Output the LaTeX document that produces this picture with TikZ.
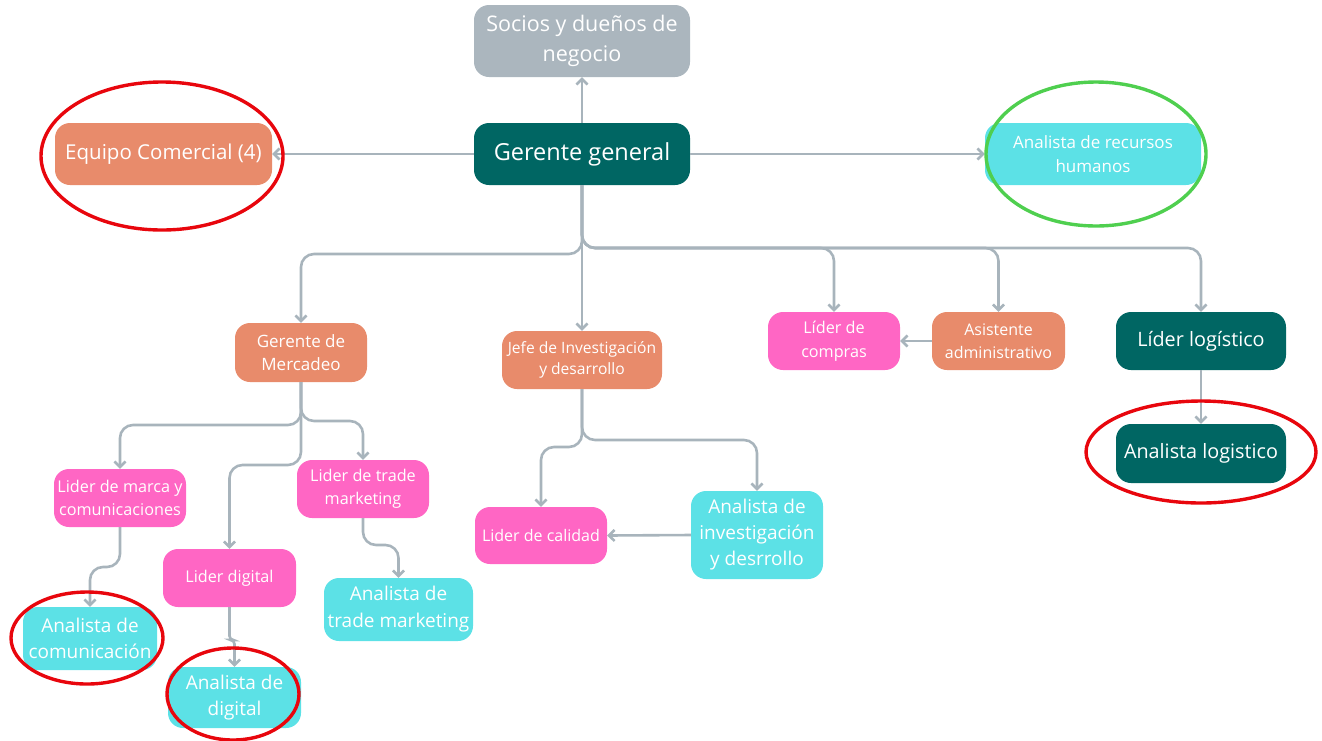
\documentclass[tikz,border=0pt]{standalone}
\usepackage{fontspec}
\setmainfont{Open Sans}
\usetikzlibrary{arrows.meta}

\definecolor{cOrange}{HTML}{E88B6B}
\definecolor{cPink}{HTML}{FF66C4}
\definecolor{cCyan}{HTML}{5CE1E6}
\definecolor{cTeal}{HTML}{006663}
\definecolor{cGray}{HTML}{ABB6BE}
\definecolor{cLine}{HTML}{A8B4BC}
\definecolor{cRed}{HTML}{E8060D}
\definecolor{cGreen}{HTML}{4FCF4F}

\newcommand{\fs}[2]{\fontsize{#1}{#2}\selectfont}

\tikzset{
  box/.style={rounded corners=15pt, text=white, align=center, inner sep=0pt},
  conn/.style={draw=cLine, line width=2.6pt, rounded corners=13pt,
    -{Straight Barb[length=5.5pt,width=11pt]}},
  mark red/.style={draw=cRed, line width=3.4pt},
  mark green/.style={draw=cGreen, line width=3.4pt},
}

\begin{document}
\begin{tikzpicture}[x=1pt, y=-1pt]
\useasboundingbox (0,0) rectangle (1322,740);

% top level
\node[box, fill=cGray, minimum width=216pt, minimum height=72pt, font=\fs{21.5}{30}] (soc) at (582,41) {Socios y dueños de\\negocio};
\node[box, fill=cTeal, minimum width=216pt, minimum height=62pt, font=\fs{23.5}{28}] (gg) at (582,154) {Gerente general};
\node[box, fill=cOrange, minimum width=217pt, minimum height=62pt, font=\fs{20.5}{26}] (eq) at (163.5,154) {Equipo Comercial (4)};
\node[box, fill=cCyan, minimum width=216pt, minimum height=62pt, font=\fs{17}{24}] (rh) at (1093,154) {Analista de recursos\\humanos};

% second level
\node[box, fill=cOrange, minimum width=132pt, minimum height=59pt, font=\fs{17}{23}] (gm) at (301,352.5) {Gerente de\\Mercadeo};
\node[box, fill=cOrange, minimum width=160pt, minimum height=58pt, font=\fs{15.6}{21}] (jefe) at (582,360) {Jefe de Investigación\\y desarrollo};
\node[box, fill=cPink, minimum width=132pt, minimum height=58pt, font=\fs{16.2}{24}] (lc) at (834,341) {Líder de\\compras};
\node[box, fill=cOrange, minimum width=133pt, minimum height=58pt, font=\fs{16}{23}] (asist) at (998.5,341) {Asistente\\administrativo};
\node[box, fill=cTeal, minimum width=170pt, minimum height=58pt, font=\fs{19.8}{26}] (llog) at (1201,341) {Líder logístico};
\node[box, fill=cTeal, minimum width=170pt, minimum height=59pt, font=\fs{19.8}{26}] (alog) at (1201,453.5) {Analista logistico};

% marketing branch
\node[box, fill=cPink, minimum width=132pt, minimum height=58pt, font=\fs{16.2}{23}] (marca) at (120,498) {Lider de marca y\\comunicaciones};
\node[box, fill=cPink, minimum width=132pt, minimum height=58pt, font=\fs{16.2}{23}] (trade) at (363,489) {Lider de trade\\marketing};
\node[box, fill=cPink, minimum width=133pt, minimum height=58pt, font=\fs{16.2}{23}] (dig) at (229.5,578) {Lider digital};
\node[box, fill=cCyan, minimum width=134pt, minimum height=63pt, font=\fs{19}{26}] (acom) at (90,638.5) {Analista de\\comunicación};
\node[box, fill=cCyan, minimum width=133pt, minimum height=61pt, font=\fs{19}{26}] (adig) at (234.5,697.5) {Analista de\\digital};
\node[box, fill=cCyan, minimum width=149pt, minimum height=63pt, font=\fs{19}{27}] (atrade) at (398.5,609.5) {Analista de\\trade marketing};

% research branch
\node[box, fill=cPink, minimum width=132pt, minimum height=57pt, font=\fs{16}{23}] (cal) at (541,535.5) {Lider de calidad};
\node[box, fill=cCyan, minimum width=132pt, minimum height=88pt, font=\fs{19}{26}] (ainv) at (757,535) {Analista de\\investigación\\y desrrollo};

% bus levels
\coordinate (busL) at (0,254);
\coordinate (busR) at (0,248);
\coordinate (busM1) at (0,425);
\coordinate (busM2) at (0,465);
\coordinate (busM3) at (0,421);
\coordinate (busJ1) at (0,447);
\coordinate (busJ2) at (0,440);
\coordinate (busA) at (0,567);
\coordinate (busD) at (0,640);
\coordinate (busT) at (0,545);

% connectors from the general manager
\draw[conn] (gg.north) -- (soc.south);
\draw[conn] (gg.west) -- (eq.east);
\draw[conn] (gg.east) -- (rh.west);
\draw[conn] (gg.south) -- (gg.south |- busL) -- (gm.north |- busL) -- (gm.north);
\draw[conn] (gg.south) -- (jefe.north);
\draw[conn] (gg.south) -- (gg.south |- busR) -- (lc.north |- busR) -- (lc.north);
\draw[conn] (gg.south) -- (gg.south |- busR) -- (asist.north |- busR) -- (asist.north);
\draw[conn] (gg.south) -- (gg.south |- busR) -- (llog.north |- busR) -- (llog.north);

% marketing connectors
\draw[conn] (gm.south) -- (gm.south |- busM1) -- (marca.north |- busM1) -- (marca.north);
\draw[conn] (gm.south) -- (gm.south |- busM2) -- (dig.north |- busM2) -- (dig.north);
\draw[conn] (gm.south) -- (gm.south |- busM3) -- (trade.north |- busM3) -- (trade.north);
\draw[conn] (marca.south) -- (marca.south |- busA) -- (acom.north |- busA) -- (acom.north);
\draw[conn, rounded corners=4pt] (dig.south) -- (dig.south |- busD) -- (adig.north |- busD) -- (adig.north);
\draw[conn] (trade.south) -- (trade.south |- busT) -- (atrade.north |- busT) -- (atrade.north);

% research connectors
\draw[conn] (jefe.south) -- (jefe.south |- busJ1) -- (cal.north |- busJ1) -- (cal.north);
\draw[conn] (jefe.south) -- (jefe.south |- busJ2) -- (ainv.north |- busJ2) -- (ainv.north);
\draw[conn] (ainv.west) -- (cal.east);

% remaining connectors
\draw[conn] (asist.west) -- (lc.east);
\draw[conn] (llog.south) -- (alog.north);

% highlight rings
\draw[mark red] (162,156) ellipse [x radius=121, y radius=74];
\draw[mark green] (1096,154) ellipse [x radius=110, y radius=72];
\draw[mark red] (87,638) ellipse [x radius=76, y radius=46];
\draw[mark red] (233,694) ellipse [x radius=66, y radius=46];
\draw[mark red] (1201,452) ellipse [x radius=115, y radius=51];
\end{tikzpicture}
\end{document}
